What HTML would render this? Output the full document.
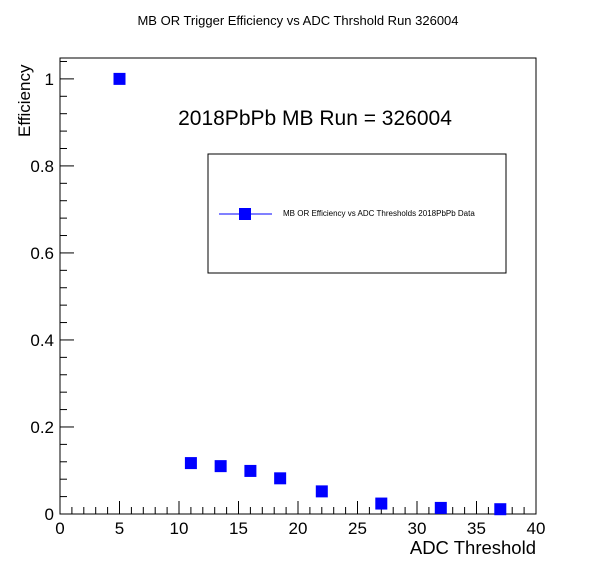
<!DOCTYPE html>
<html><head><meta charset="utf-8"><style>
body{margin:0;background:#fff;}
svg text{font-family:"Liberation Sans",sans-serif;}
</style></head><body>
<svg id="chart" width="596" height="572" xmlns="http://www.w3.org/2000/svg">
<rect width="596" height="572" fill="#fff"/>
<text x="298" y="25" font-size="13" text-anchor="middle">MB OR Trigger Efficiency vs ADC Thrshold Run 326004</text>
<rect x="60" y="58" width="476" height="456" fill="none" stroke="#000" stroke-width="1"/>
<g id="xticks"></g>
<g id="yticks"></g>
<text x="536" y="554" font-size="18.5" text-anchor="end">ADC Threshold</text>
<text transform="translate(30,137) rotate(-90)" font-size="17" text-anchor="start">Efficiency</text>
<text x="315" y="125" font-size="21" text-anchor="middle">2018PbPb MB Run = 326004</text>
<g>
<rect x="208" y="154" width="298" height="119" fill="#fff" stroke="#000" stroke-width="1"/>
<line x1="219" y1="214" x2="272" y2="214" stroke="#00f" stroke-width="1"/>
<rect x="239" y="208" width="12" height="12" fill="#00f"/>
<text x="283" y="216" font-size="8">MB OR Efficiency vs ADC Thresholds 2018PbPb Data</text>
</g>
<g id="points"></g>
</svg>
<script>
const thresholds=[5,11,13.5,16,18.5,22,27,32,37];
const efficiency=[1.0,0.117,0.110,0.099,0.082,0.052,0.024,0.014,0.011];
const xTickLabels=[0,5,10,15,20,25,30,35,40];
const yTickLabels=[0,0.2,0.4,0.6,0.8,1];
const NS="http://www.w3.org/2000/svg";
const X0=60,X1=536,Y0=514,Y1=58,XMAX=40,YMAX=1.048;
const sx=v=>X0+(v/XMAX)*(X1-X0);
const sy=v=>Y0-(v/YMAX)*(Y0-Y1);
function mk(tag,attrs,parent){const e=document.createElementNS(NS,tag);for(const k in attrs)e.setAttribute(k,attrs[k]);parent.appendChild(e);return e;}
const xg=document.getElementById('xticks');
for(let v=0;v<=40;v+=1){const major=v%5===0;mk('line',{x1:sx(v),x2:sx(v),y1:Y0,y2:Y0-(major?13:7),stroke:'#000'},xg);}
xTickLabels.forEach(v=>{const t=mk('text',{x:sx(v),y:Y0+20,'font-size':17,'text-anchor':'middle'},xg);t.textContent=v;

});
const yg=document.getElementById('yticks');
for(let i=0;i<=52;i++){const v=i*0.02;if(v>YMAX)break;const major=i%10===0;const minor=i%2===0;if(!minor&&!major)continue;
mk('line',{x1:X0,x2:X0+(major?14:7),y1:sy(v),y2:sy(v),stroke:'#000'},yg);}
yTickLabels.forEach(v=>{const t=mk('text',{x:X0-6,y:sy(v)+6,'font-size':17,'text-anchor':'end'},yg);t.textContent=v;

});
const pg=document.getElementById('points');
thresholds.forEach((x,i)=>{const r=mk('rect',{x:sx(x)-6,y:sy(efficiency[i])-6,width:12,height:12,fill:'#00f'},pg);

});
</script>
</body></html>
